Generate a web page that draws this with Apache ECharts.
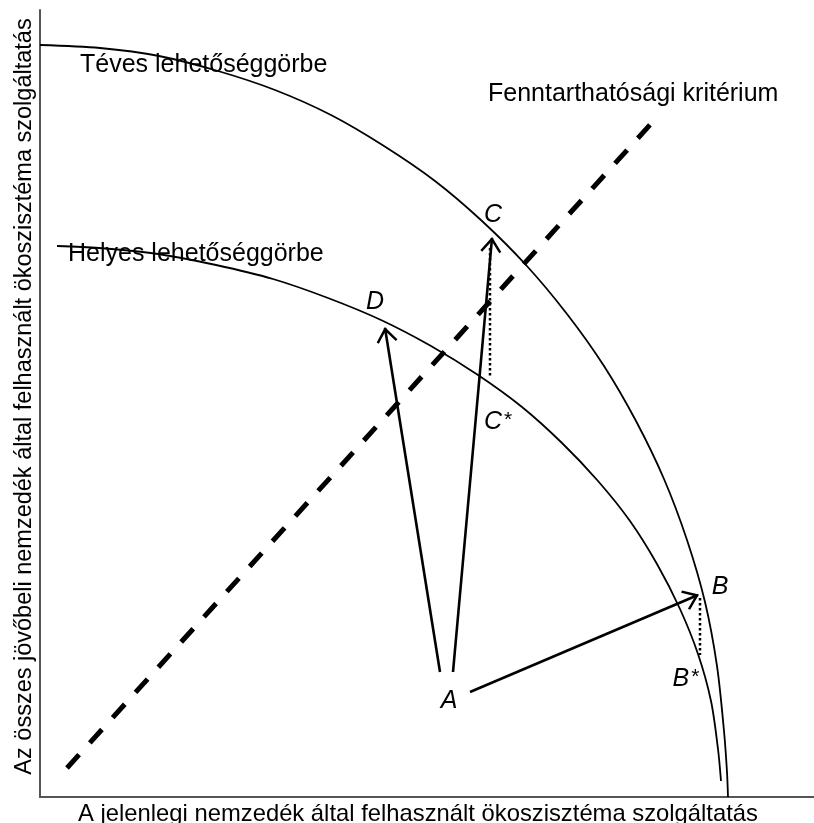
<!DOCTYPE html>
<html>
<head>
<meta charset="utf-8">
<script src="https://cdn.jsdelivr.net/npm/echarts@6/dist/echarts.min.js"></script>
<style>
html,body{margin:0;padding:0;background:#fff;}
#chart{width:814px;height:823px;}
</style>
</head>
<body>
<div id="chart"></div>
<script>
// ---- data (units; origin at the axes corner) ----
const xAxisTitle = 'A jelenlegi nemzedék által felhasznált ökoszisztéma szolgáltatás';
const yAxisTitle = 'Az összes jövőbeli nemzedék által felhasznált ökoszisztéma szolgáltatás';

const wrongFrontier = [[0,752],[60,749],[119,741],[178,726],[235,707],[291,682],[344,651],[395,616],[442,576],[486,532],[527,483],[564,431],[596,376],[624,318],[647,257],[665,195],[677,131],[684,66],[687,25],[688,0]];
const rightFrontier = [[17,551],[59,549],[118,543],[176,532],[233,518],[288,499],[341,477],[391,451],[438,422],[482,390],[522,354],[558,316],[590,276],[617,233],[640,188],[658,143],[671,96],[678,48],[681,16]];
const criterionLine = [[27,29],[618,681]];

const arrowAB = [[430,105],[658,202]];
const arrowAD = [[400,125],[345,469]];
const arrowAC = [[413,125],[452,559]];

const dottedCC = [[450,549],[450,420]];
const dottedBB = [[660,199],[660,142]];

const curveNames = ['Téves lehetőséggörbe','Helyes lehetőséggörbe','Fenntarthatósági kritérium'];
const curveNamePos = [[40,732],[28,543],[448,703]];

const pointNames = ['A','B','B*','C','C*','D'];
const pointPos = [[409,96],[680,210],[646,118],[453,582],[458,375],[335,495]];

// ---- chart ----
const FONT = "'Liberation Sans', Arial, sans-serif";
const arrowHead = 'path://M0,-1 L10.5,13 L8.6,14.6 L0,3.2 L-8.6,14.6 L-10.5,13 Z M-14.6,0 L-14.6,0 Z M14.6,0 L14.6,0 Z M0,-14.6 L0,-14.6 Z';

function richName(n) {
  if (n.endsWith('*')) return '{i|' + n.slice(0, -1) + '}{s|*}';
  return '{i|' + n + '}';
}

const chart = echarts.init(document.getElementById('chart'), null, {renderer: 'canvas'});
chart.setOption({
  animation: false,
  backgroundColor: '#fff',
  grid: {left: 40, top: 10, right: 0, bottom: 26, containLabel: false, outerBoundsMode: 'none'},
  xAxis: {
    type: 'value', min: 0, max: 774,
    axisLine: {show: true, onZero: false, lineStyle: {color: '#555', width: 2}},
    axisTick: {show: false}, axisLabel: {show: false}, splitLine: {show: false},
    name: xAxisTitle, nameLocation: 'middle', nameGap: 5,
    nameTextStyle: {fontFamily: FONT, fontSize: 23.8, color: '#000', padding: [0, 18, 0, 0], verticalAlign: 'top'}
  },
  yAxis: {
    type: 'value', min: 0, max: 787,
    axisLine: {show: true, onZero: false, lineStyle: {color: '#555', width: 2}},
    axisTick: {show: false}, axisLabel: {show: false}, splitLine: {show: false},
    name: yAxisTitle, nameLocation: 'middle', nameGap: 3, nameRotate: 90,
    nameTextStyle: {fontFamily: FONT, fontSize: 23.5, color: '#000', padding: [0, 0, 0, 14]}
  },
  series: [
    {type: 'line', data: wrongFrontier, smooth: 0.3, symbol: 'none', silent: true,
     lineStyle: {color: '#000', width: 1.8}},
    {type: 'line', data: rightFrontier, smooth: 0.3, symbol: 'none', silent: true,
     lineStyle: {color: '#000', width: 1.8}},
    {type: 'line', data: criterionLine, symbol: 'none', silent: true,
     lineStyle: {color: '#000', width: 5, type: [18, 16], cap: 'butt'}},
    {type: 'line', data: dottedCC, symbol: 'none', silent: true,
     lineStyle: {color: '#000', width: 2.5, type: [2.5, 2.5], cap: 'butt'}},
    {type: 'line', data: dottedBB, symbol: 'none', silent: true,
     lineStyle: {color: '#000', width: 2.5, type: [2.5, 2.5], cap: 'butt'}},
    {type: 'lines', coordinateSystem: 'cartesian2d', silent: true,
     symbol: ['none', arrowHead], symbolSize: 29.2,
     lineStyle: {color: '#000', width: 2.6, opacity: 1, curveness: 0},
     data: [{coords: arrowAB}, {coords: arrowAD}, {coords: arrowAC}]},
    {type: 'scatter', symbolSize: 0, silent: true, itemStyle: {opacity: 1},
     data: curveNames.map((n, i) => ({value: curveNamePos[i], name: n})),
     label: {show: true, position: 'right', distance: 0, formatter: p => p.name,
             fontFamily: FONT, fontSize: 25, color: '#000', opacity: 1}},
    {type: 'scatter', symbolSize: 0, silent: true, itemStyle: {opacity: 1},
     data: pointNames.map((n, i) => ({value: pointPos[i], name: n})),
     label: {show: true, position: 'inside', formatter: p => richName(p.name), opacity: 1,
             rich: {
               i: {fontFamily: FONT, fontSize: 25, lineHeight: 25, fontStyle: 'italic', color: '#000'},
               s: {fontFamily: FONT, fontSize: 21, lineHeight: 25, color: '#000', verticalAlign: 'top', padding: [0, 0, 0, 2]}
             }}}
  ]
});
</script>
</body>
</html>
